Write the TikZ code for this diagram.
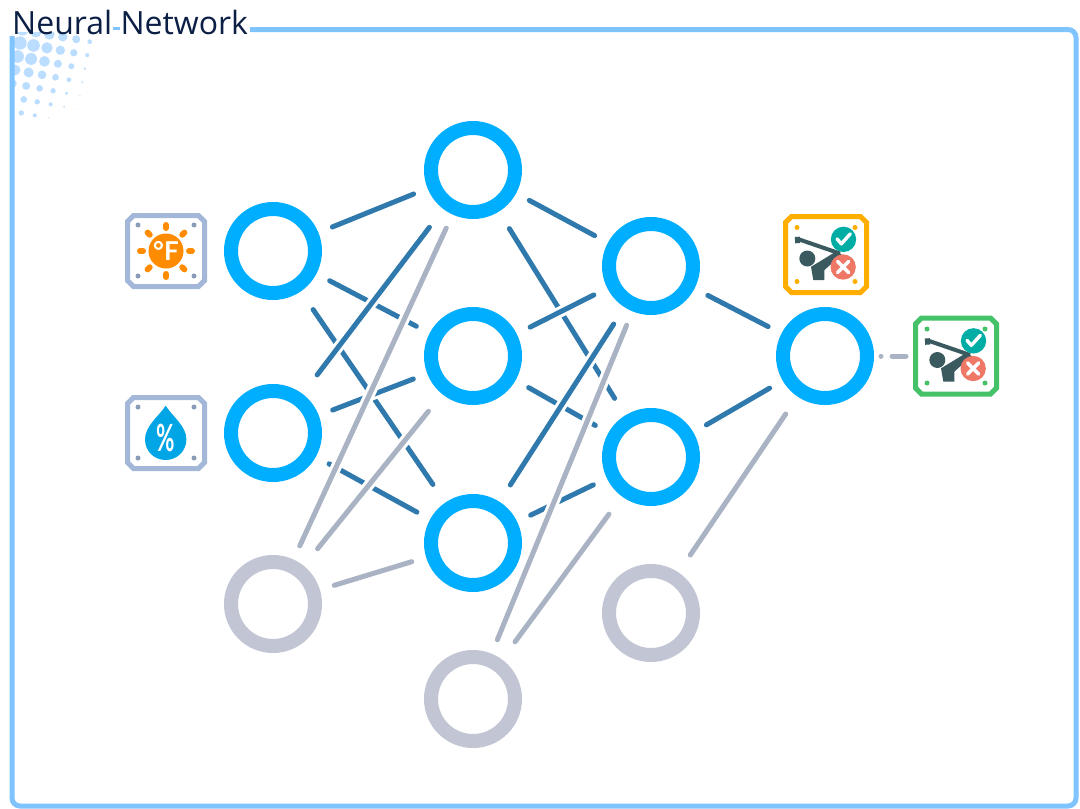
\documentclass[tikz,border=0pt]{standalone}
\usepackage{fontspec,graphicx}
\setmainfont{Lato}
\newfontfamily\titlefont{Open Sans}
\usetikzlibrary{positioning,calc}
\definecolor{ringblue}{HTML}{00AEFF}
\definecolor{ringgrey}{HTML}{C2C5D3}
\definecolor{wireblue}{HTML}{2F79AD}
\definecolor{wiregrey}{HTML}{A9B3C4}
\definecolor{framecol}{HTML}{80C4FF}
\definecolor{dotcol}{HTML}{BBDDFF}
\definecolor{titlecol}{HTML}{0B1F45}
\definecolor{platecol}{HTML}{A3B8D8}
\definecolor{sunorange}{HTML}{FF8C00}
\definecolor{dropblue}{HTML}{00A5E5}
\definecolor{amber}{HTML}{FFAE00}
\definecolor{leaf}{HTML}{45C168}
\definecolor{golfdark}{HTML}{3A5A60}
\definecolor{yesteal}{HTML}{00ADA5}
\definecolor{nored}{HTML}{EE7766}
\newcommand{\plateedge}[2]{\draw[draw=#2,fill=white,line width=5pt]
  ($(#1.north west)+(6,0)$)--($(#1.north east)+(-6,0)$)--($(#1.north east)+(0,6)$)--($(#1.south east)+(0,-6)$)
  --($(#1.south east)+(-6,0)$)--($(#1.south west)+(6,0)$)--($(#1.south west)+(0,-6)$)--($(#1.north west)+(0,6)$)--cycle;}
\tikzset{
  golf/.pic={
    \fill[golfdark] (-56,12) circle[radius=24];
    \draw[golfdark,line width=4pt] (-83,-46)--(42,-3);
    \draw[golfdark,line width=5pt] (-86,-53)--(-85,-34);
    \fill[golfdark] (32,-10)--(47,0)--(-5,47)--(-5,77)--(-38,77)--(-45,37)--cycle;
    \fill[yesteal] (52.5,-45.5) circle[radius=38];
    \draw[white,line width=3.4pt,line cap=round,line join=round] (33,-47)--(46,-32)--(73,-62);
    \fill[nored] (51.5,37.5) circle[radius=38];
    \draw[white,line width=3.6pt,line cap=round] (35,21)--(68,54) (68,21)--(35,54);
  }
}
\begin{document}
\begin{tikzpicture}[x=1pt,y=-1pt,
  n/.style={circle,draw=ringblue,fill=white,line width=14pt,minimum size=84pt,inner sep=0pt,outer sep=7pt},
  g/.style={n,draw=ringgrey},
  w/.style={draw=wireblue,line width=5pt,line cap=round,shorten <=15pt,shorten >=15pt,preaction={draw=white,line width=11pt,line cap=butt}},
  o/.style={w,draw=wiregrey},
  plate/.style={rectangle,inner sep=0pt,outer sep=0pt}]
\useasboundingbox (0,0) rectangle (1080,809);
\fill[white] (0,0) rectangle (1080,809);
% halftone corner
\begin{scope}
\clip (10,32) rectangle (110,130);
\foreach \j/\radii in {0/{7,12,14,16,17,18},1/{6,11,14,17,19,20},2/{4,9,12,16,18,19},3/{3,7,10,13,15,16},4/{2,5,8,10,12,12},5/{1,3,6,8,10,10},6/{0,1,2,6,8,8}}
  \foreach \r [count=\i from 0] in \radii
    \fill[dotcol] ({(269-40.3*\i-7.3*\j)/3},{(125-7.3*\i+40.5*\j)/3}) circle[radius=\r/3];
\end{scope}
% frame
\draw[framecol,line width=5pt,rounded corners=8pt] (250,29.5)--(1076,29.5)--(1076,806)--(12,806)--(12,36);
\draw[framecol,line width=3pt] (113,28)--(120,28);
\node[anchor=west,inner sep=0pt,text=titlecol,font=\titlefont\fontsize{32}{32}\selectfont] (title) at (12,22) {Neural Network};
% layers
\node[n] (i1) at (273,251) {};
\node[n] (i2) at (273,433) {};
\node[g] (i3) at (273,604) {};
\node[n] (h1) at (473,170) {};
\node[n] (h2) at (473,356) {};
\node[n] (h3) at (473,543) {};
\node[g] (h4) at (473,699) {};
\node[n] (k1) at (651,266) {};
\node[n] (k2) at (651,457) {};
\node[g] (k3) at (651,613) {};
\node[n] (r) at (825,356) {};
% wires
\draw[w,shorten <=22pt,shorten >=22pt] (i1)--(h3);
\draw[w] (i1)--(h1);
\draw[w] (i1)--(h2);
\draw[w,shorten <=24pt,shorten >=23pt] (i2)--(h1);
\draw[w] (i2)--(h2);
\draw[w] (i2)--(h3);
\draw[o] (i3)--(h1);
\draw[o,shorten <=22pt,shorten >=22pt] (i3)--(h2);
\draw[o] (i3)--(h3);
\draw[w,shorten <=20pt,shorten >=20pt] (h1)--(k2);
\draw[w] (h1)--(k1);
\draw[w] (h2)--(k1);
\draw[w] (h2)--(k2);
\draw[w,shorten <=20pt,shorten >=20pt] (h3)--(k1);
\draw[w] (h3)--(k2);
\draw[o] (h4)--(k1);
\draw[o,shorten <=22pt,shorten >=22pt] (h4)--(k2);
\draw[w] (k1)--(r);
\draw[w] (k2)--(r);
\draw[o,shorten <=21pt,shorten >=21pt] (k3)--(r);
% plates
\node[plate,minimum width=77pt,minimum height=71pt] (temp) at (166,251) {};
\plateedge{temp}{platecol}
\foreach \a/\b in {-28/-26,28/-26,-28/25,28/25}
  \fill[platecol!85!black] ($(temp)+(\a,\b)$) circle[radius=2.5];
\node[plate,minimum width=77pt,minimum height=71pt] (hum) at (166,433) {};
\plateedge{hum}{platecol}
\foreach \a/\b in {-28/-26,28/-26,-28/25,28/25}
  \fill[platecol!85!black] ($(hum)+(\a,\b)$) circle[radius=2.5];
\node[plate,minimum width=81pt,minimum height=76pt] (play) at (826,254.5) {};
\plateedge{play}{amber}
\foreach \a/\b in {-29/-27,29/-27,-29/27,29/27}
  \fill[amber] ($(play)+(\a,\b)$) circle[radius=2.5];
\node[plate,minimum width=81pt,minimum height=76pt] (out) at (956,356) {};
\plateedge{out}{leaf}
\foreach \a/\b in {-29/-27,29/-27,-29/27,29/27}
  \fill[leaf] ($(out)+(\a,\b)$) circle[radius=2.5];
\pic[scale=1/3] at (play) {golf};
\pic[scale=1/3] at (out) {golf};
% sun
\foreach \t in {0,45,...,315}
  \draw[sunorange,line width=6pt,line cap=round] ($(temp)+(\t:23)$)--($(temp)+(\t:26)$);
\node[circle,fill=sunorange,minimum size=35pt,inner sep=0pt,text=white,font=\fontsize{26}{26}\selectfont\bfseries] (sun) at (temp) {°F};
% drop
\fill[dropblue] (165.7,405.7) .. controls (172,416) and (186.4,426) .. (186.4,439.3) .. controls (186.4,451) and (177,460) .. (165.7,460) .. controls (154,460) and (145,451) .. (145,439.3) .. controls (145,426) and (159,416) .. (165.7,405.7)--cycle;
\node[inner sep=0pt,text=white,font=\fontsize{30}{30}\selectfont\bfseries] (pct) at (165.7,438) {\scalebox{.75}[1.25]{\%}};
\draw[wiregrey,line width=5pt,line cap=round,dash pattern=on 0.01pt off 11pt on 14pt off 40pt,shorten <=7pt,shorten >=5pt] (r)--(out);
\end{tikzpicture}
\end{document}
